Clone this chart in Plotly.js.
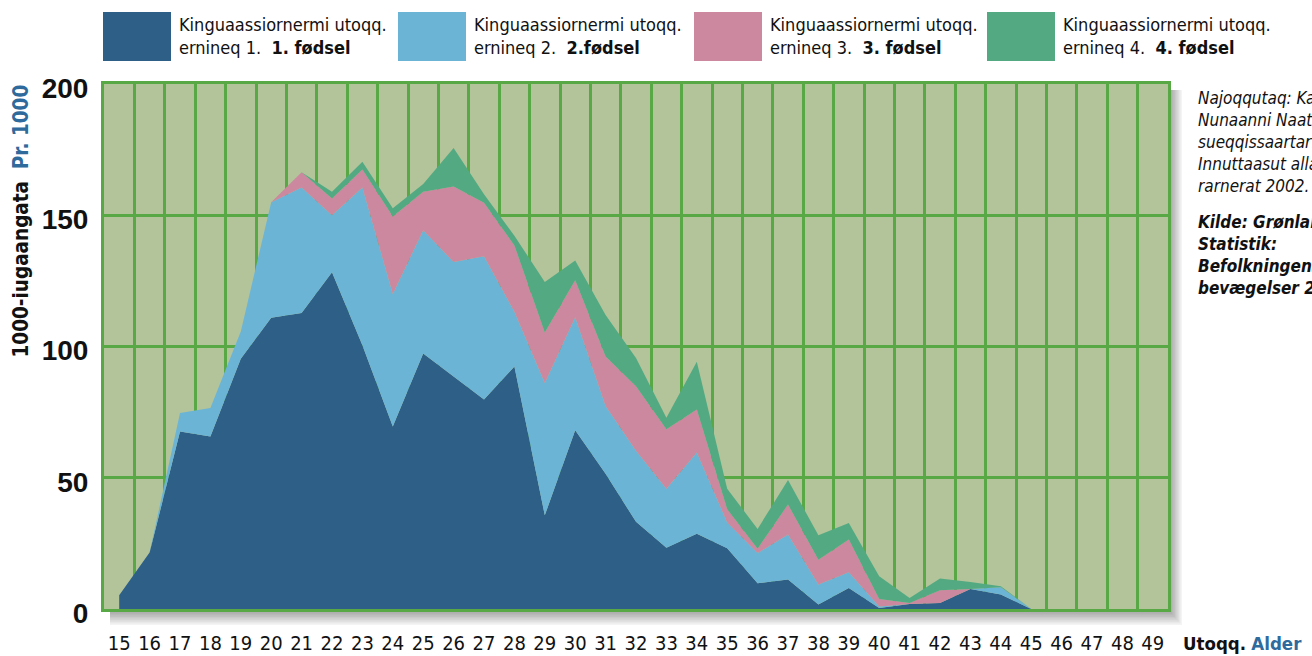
<!DOCTYPE html>
<html>
<head>
<meta charset="utf-8">
<script src="https://cdn.plot.ly/plotly-3.0.1.min.js"></script>
<style>
html,body{margin:0;padding:0;background:#ffffff;}
#chart{width:1312px;height:656px;}
</style>
</head>
<body>
<div id="chart"></div>
<script>
// ---- data ----
const ages = [15,16,17,18,19,20,21,22,23,24,25,26,27,28,29,30,31,32,33,34,35,36,37,38,39,40,41,42,43,44,45,46,47,48,49];
const birth1 = [5.2,21.5,67.6,65.7,95.3,111,112.8,128.3,100.5,69.5,97.3,88.5,79.8,92.4,35.7,68.1,51.5,33.2,23.3,28.7,23.1,9.8,11.2,1.7,8.0,0.4,1.9,2.3,7.6,5.5,0,0,0,0,0];
const birth2 = [0,0,7.1,10.9,10.4,44,47.8,21.7,60.1,50.5,47,43.7,54.6,20.8,50.4,43,25.8,27.1,22.5,30.9,9.9,11.5,17.2,7.6,6,0.6,0,0,0,2.8,0,0,0,0,0];
const birth3 = [0,0,0,0,0,0,5.8,6.4,6.8,29.5,14.7,28.8,20.4,25.3,19.2,14.1,18.9,24.6,22.7,16.4,5,1.7,11.4,9.5,12.5,2.8,0.4,4.8,0,0,0,0,0,0,0];
const birth4 = [0,0,0,0,0,0,0,2.6,3.0,3.2,2.9,14.6,3.2,3.7,19.3,7.6,15.8,10.7,4.4,18.2,7.8,7.5,9.3,9.3,6.3,8.7,1.9,4.5,2.7,0.4,0,0,0,0,0];
const yTicks = [0,50,100,150,200];
const legendLine1 = ["Kinguaassiornermi utoqq.","Kinguaassiornermi utoqq.","Kinguaassiornermi utoqq.","Kinguaassiornermi utoqq."];
const legendLine2 = ["ernineq 1.","ernineq 2.","ernineq 3.","ernineq 4."];
const legendDa = ["1. fødsel","2.fødsel","3. fødsel","4. fødsel"];
const yTitleKl = "1000-iugaangata";
const yTitleDa = "Pr. 1000";
const xTitleKl = "Utoqq.";
const xTitleDa = "Alder";
const sourceKl = ["Najoqqutaq: Kalaallit","Nunaanni Naatsor-","sueqqissaartarfik:","Innuttaasut allanngo-","rarnerat 2002."];
const sourceDa = ["Kilde: Grønlands","Statistik:","Befolkningens","bevægelser 2002."];

// ---- styles ----
const colors = ["#2e5f87","#6cb4d5","#cb889e","#53aa82"];
const series = [birth1,birth2,birth3,birth4];
const FONT = "'DejaVu Sans Condensed','Liberation Sans Narrow','Liberation Sans',sans-serif";
const FONT_NUM = "'Liberation Sans','Arial',sans-serif";
const BLUE_TXT = "#2f6a9c";
const GRID = "#58a846";
const BG = "#b3c49a";

// plot area in pixels
const W = 1312, H = 656;
const PL = 104, PR = 1168, PT = 84, PB = 609;
const px = x => (x - PL) / (PR - PL);
const py = y => (PB - y) / (PB - PT);

const traces = series.map((s, i) => ({
  type: 'scatter',
  mode: 'lines',
  x: ages,
  y: s,
  stackgroup: 'one',
  line: {width: 0, color: colors[i]},
  fillcolor: colors[i],
  name: legendDa[i],
  showlegend: false,
  hoverinfo: 'skip'
}));

const shapes = [];
// soft drop shadow
for (let k = 1; k <= 10; k++) {
  shapes.push({type:'rect', xref:'paper', yref:'paper', layer:'below',
    x0: px(PL + 6), x1: px(PR + k*1.4), y0: py(PB + k*1.6), y1: py(PT + 6),
    line:{width:0}, fillcolor:'rgba(0,0,0,0.045)'});
}
// plot background
shapes.push({type:'rect', xref:'paper', yref:'paper', layer:'below',
  x0:0, x1:1, y0:0, y1:1, line:{width:0}, fillcolor: BG});

// legend swatches
const swX = [103, 398, 694, 987];
const annotations = [];
swX.forEach((x, i) => {
  shapes.push({type:'rect', xref:'paper', yref:'paper',
    x0: px(x), x1: px(x + 68), y0: py(61), y1: py(12),
    line:{width:0}, fillcolor: colors[i]});
  annotations.push({xref:'paper', yref:'paper', x: px(x + 74), y: py(12),
    xanchor:'left', yanchor:'top', align:'left', showarrow:false,
    text: legendLine1[i] + '<br>' + legendLine2[i] + '  <b>' + legendDa[i] + '</b>',
    font:{family:FONT, size:18, color:'#111111'}});
});

// y title (rotated)
annotations.push({xref:'paper', yref:'paper', x: px(20), y: py(83),
  xanchor:'center', yanchor:'top', textangle:-90, showarrow:false,
  text: '<b>' + yTitleKl + '</b>  <b><span style="color:' + BLUE_TXT + '">' + yTitleDa + '</span></b>',
  font:{family:FONT, size:20.5, color:'#111111'}});

// x title
annotations.push({xref:'paper', yref:'paper', x: px(1181), y: py(643),
  xanchor:'left', yanchor:'middle', showarrow:false,
  text: '<b>' + xTitleKl + '</b> <b><span style="color:' + BLUE_TXT + '">' + xTitleDa + '</span></b>',
  font:{family:FONT, size:18.5, color:'#111111'}});

// source notes
annotations.push({xref:'paper', yref:'paper', x: px(1196), y: py(86),
  xanchor:'left', yanchor:'top', align:'left', showarrow:false,
  text: '<i>' + sourceKl.join('<br>') + '</i>',
  font:{family:FONT, size:17, color:'#111111'}});
annotations.push({xref:'paper', yref:'paper', x: px(1196), y: py(210),
  xanchor:'left', yanchor:'top', align:'left', showarrow:false,
  text: '<b><i>' + sourceDa.join('<br>') + '</i></b>',
  font:{family:FONT, size:17, color:'#111111'}});

const layout = {
  width: W, height: H,
  margin: {l: PL, r: W - PR, t: PT, b: H - PB, pad: 0},
  paper_bgcolor: '#ffffff',
  plot_bgcolor: 'rgba(0,0,0,0)',
  showlegend: false,
  xaxis: {
    type: 'linear',
    range: [14.5, 49.5],
    tickmode: 'array',
    tickvals: ages,
    ticktext: ages.map(String),
    showgrid: false,
    zeroline: false,
    ticks: '',
    ticklabelstandoff: 14,
    tickfont: {family: FONT, size: 20, color: '#111111'},
    showline: true, mirror: true, linecolor: GRID, linewidth: 3,
    minor: {tickmode: 'linear', tick0: 14.5, dtick: 1, showgrid: true, gridcolor: GRID, gridwidth: 3, ticks: ''},
    fixedrange: true
  },
  yaxis: {
    range: [0, 200],
    tickmode: 'array',
    tickvals: yTicks,
    ticktext: yTicks.map(String),
    showgrid: true, gridcolor: GRID, gridwidth: 3,
    zeroline: false,
    ticks: '',
    ticklabelstandoff: 7,
    ticklabelshift: 4,
    tickfont: {family: FONT_NUM, size: 28, color: '#111111', weight: 'bold'},
    showline: true, mirror: true, linecolor: GRID, linewidth: 3,
    fixedrange: true
  },
  shapes: shapes,
  annotations: annotations
};

Plotly.newPlot('chart', traces, layout, {displayModeBar: false, staticPlot: true});
</script>
</body>
</html>
